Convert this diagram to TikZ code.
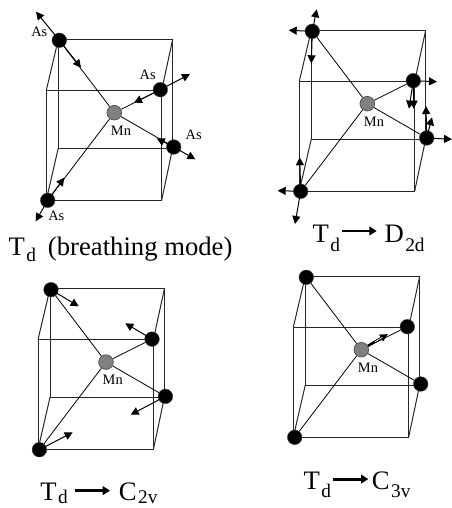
\documentclass[tikz,border=0pt]{standalone}
\usepackage{fontspec}
\setmainfont{Liberation Serif}
\usetikzlibrary{arrows.meta,backgrounds}
\tikzset{
  edge/.style={line width=0.75pt,draw=black!85},
  bond/.style={line width=0.6pt,draw=black},
  disp/.style={line width=0.75pt,-{Triangle[length=6pt,width=6pt]}},
  as/.style={circle,fill=black,draw=black!70,line width=0.3pt,minimum size=11pt,inner sep=0pt},
  mn/.style={circle,fill=black!50,draw=black!70,line width=0.5pt,minimum size=11pt,inner sep=0pt},
  lab/.style={font=\fontsize{10.8}{12}\selectfont,inner sep=0pt},
  captxt/.style={font=\fontsize{20}{22}\selectfont,inner sep=0pt,anchor=base west},
  sym/.style={line width=2.2pt,-{Triangle[length=5.5pt,width=6.5pt]}},
}
% drop, text
\newcommand{\sbs}[2]{\kern1.1pt\raisebox{-#1}{\fontsize{14.5}{15}\selectfont #2}}
% prefix, dx, dy
\newcommand{\cellpanel}[3]{%
  \begin{scope}[shift={(#2,#3)},name prefix=#1]
    \coordinate (bTL) at (58.3,39.3);
    \coordinate (bTR) at (172.7,39.3);
    \coordinate (bBL) at (58.3,148);
    \coordinate (bBR) at (172.7,148);
    \coordinate (fTL) at (46.3,90.3);
    \coordinate (fTR) at (161.7,90.3);
    \coordinate (fBL) at (46.3,200);
    \coordinate (fBR) at (161.7,200);
    \node[mn] (mn) at (114.3,112.7) {};
    \node[as] (a1) at (59.3,40.3) {};
    \node[as] (a2) at (160.3,89.7) {};
    \node[as] (a3) at (173.7,147) {};
    \node[as] (a4) at (47.7,200.3) {};
    \node[lab] (mnl) at (121,130.7) {Mn};
    \begin{pgfonlayer}{background}
      \draw[edge] (bTL) -- (bTR) -- (bBR) -- (bBL) -- cycle;
      \draw[edge] (fTL) -- (fTR) -- (fBR) -- (fBL) -- cycle;
      \draw[edge] (bTL) -- (fTL) (bTR) -- (fTR) (bBL) -- (fBL) (bBR) -- (fBR);
      \draw[bond] (mn) -- (a1) (mn) -- (a2) (mn) -- (a3) (mn) -- (a4);
    \end{pgfonlayer}
  \end{scope}}
\newcommand{\arr}[3]{\coordinate (#1) at (#3); \draw[disp] (#2.center) -- (#1);}
\begin{document}
\begin{tikzpicture}[x=0.75pt,y=-0.75pt]
\useasboundingbox (0,0) rectangle (452,508);
\cellpanel{p-}{0}{0}
\cellpanel{q-}{253}{-9}
\cellpanel{r-}{-8.3}{249.4}
\cellpanel{s-}{247}{237}

% Panel A
\arr{pa}{p-a1}{36,11.7}
\arr{pb}{p-a1}{81,67.7}
\arr{pc}{p-a2}{190,74}
\arr{pd}{p-a2}{134,102.7}
\arr{pe}{p-a3}{195.3,159.3}
\arr{pf}{p-a3}{156.7,138.3}
\arr{pg}{p-a4}{35.7,221.3}
\arr{ph}{p-a4}{64.3,177.7}
\node[lab] (pl1) at (39.3,32.3) {As};
\node[lab] (pl2) at (147.7,75.3) {As};
\node[lab] (pl3) at (193.7,135.3) {As};
\node[lab] (pl4) at (56.3,215.7) {As};
\node[captxt] (pt) at (8.3,255.5) {T\sbs{4.5pt}{d}\hspace{9pt}(breathing mode)};

% Panel B
\arr{qa}{q-a1}{316.7,9.3}
\arr{qb}{q-a1}{288.7,30.3}
\arr{qc}{q-a1}{311.3,63.3}
\arr{qd}{q-a2}{437,81.7}
\arr{qe}{q-a2}{409,108.7}
\arr{qf}{q-a2}{413.7,108.7}
\arr{qg}{q-a3}{452,139.3}
\arr{qh}{q-a3}{432,117.3}
\arr{qi}{q-a3}{426,106}
\arr{qj}{q-a4}{277.7,190.7}
\arr{qk}{q-a4}{295,224}
\arr{ql}{q-a4}{299.7,157.3}
\node[captxt] (qt) at (312.3,242.7) {T\sbs{6.5pt}{d}};
\node[captxt] (qu) at (384.3,242.7) {D\sbs{6.5pt}{2d}};
\draw[sym] ([shift={(1.4pt,8.8pt)}]qt.base east) -- ([shift={(-5.7pt,8.8pt)}]qu.base west);

% Panel C
\arr{ra}{r-a1}{78.7,306.3}
\arr{rb}{r-a2}{125.3,323.3}
\arr{rc}{r-a3}{130.7,414.7}
\arr{rd}{r-a4}{72.7,432.3}
\node[captxt] (rt) at (40,500.5) {T\sbs{2.5pt}{d}};
\node[captxt] (ru) at (118.7,500.5) {C\sbs{2.5pt}{2v}};
\draw[sym] ([shift={(5.6pt,7.4pt)}]rt.base east) -- ([shift={(-6.5pt,7.4pt)}]ru.base west);

% Panel D
\coordinate (sa) at (388,334);
\draw[line width=1.8pt,-{Triangle[length=6pt,width=5.5pt]}] (s-mn) -- (sa);
\draw[line width=0.5pt,white,shorten >=5pt,shorten <=6pt] (s-mn) -- (sa);
\node[captxt] (st) at (303.3,489.3) {T\sbs{6.3pt}{d}};
\node[captxt] (su) at (371.7,489.3) {C\sbs{6.3pt}{3v}};
\draw[sym] ([shift={(1.4pt,7.7pt)}]st.base east) -- ([shift={(-2.5pt,7.7pt)}]su.base west);
\end{tikzpicture}
\end{document}
